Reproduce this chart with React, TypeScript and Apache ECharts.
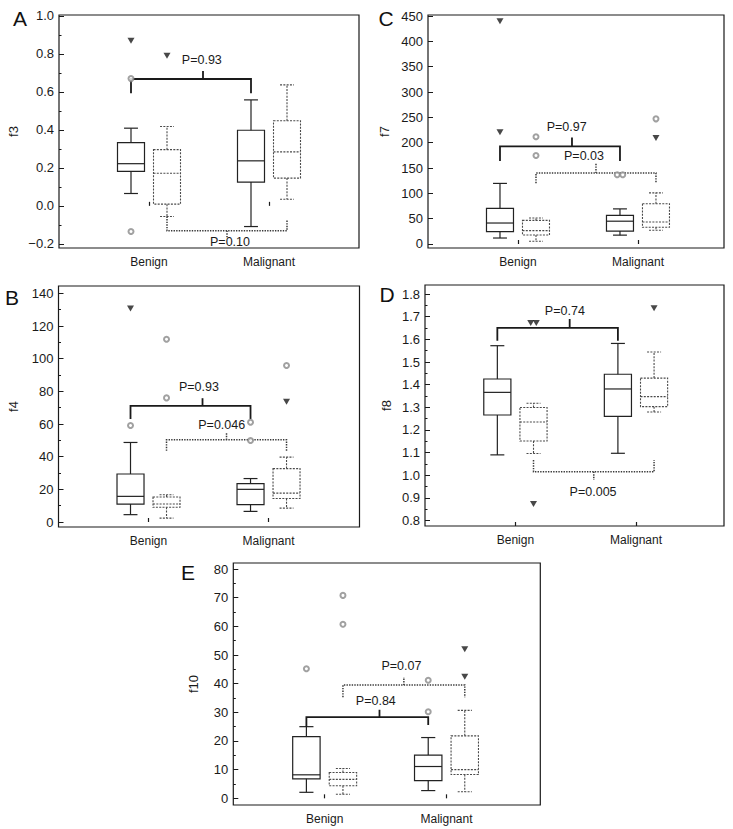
import React, { useEffect, useRef } from 'react';
import * as echarts from 'echarts';

const FONT = '"Liberation Sans", Arial, Helvetica, sans-serif';

const categories = ['Benign', 'Malignant'];

// Box statistics per category: [low whisker, Q1, median, Q3, high whisker]
// Outliers: [categoryIndex, group (0 = solid box, 1 = dashed box), value]

// Panel A — f3
const f3Solid = [[0.065, 0.181, 0.222, 0.333, 0.409], [-0.109, 0.125, 0.237, 0.398, 0.558]];
const f3Dashed = [[-0.056, 0.009, 0.172, 0.296, 0.418], [0.035, 0.146, 0.284, 0.448, 0.637]];
const f3Circles = [[0, 0, 0.67], [0, 0, -0.135]];
const f3Triangles = [[0, 0, 0.87], [0, 1, 0.79]];
const f3Ticks = [-0.2, 0, 0.2, 0.4, 0.6, 0.8, 1.0];
const f3Minor = [-0.1, 0.1, 0.3, 0.5, 0.7, 0.9];
const f3Brackets = [
  { dotted: 0, y: 0.668, leftEnd: 0.593, rightEnd: 0.593, tickEnd: 0.71, label: 'P=0.93', labelX: 1.19, labelY: 0.768 },
  { dotted: 1, y: -0.131, leftEnd: -0.056, rightEnd: -0.074, tickEnd: -0.165, label: 'P=0.10', labelX: 1.425, labelY: -0.19 },
];

// Panel C — f7
const f7Solid = [[11.8, 24.3, 41.4, 70.3, 119.6], [17.5, 25.5, 45, 56.5, 69.3]];
const f7Dashed = [[5.3, 17.7, 26.3, 46.6, 51.2], [27, 33, 43.5, 79.5, 101]];
const f7Circles = [[0, 1, 211.6], [0, 1, 174.8], [1, 0, 136.7], [1, 0, 136.7], [1, 1, 247]];
const f7Triangles = [[0, 0, 439.5], [0, 0, 220.8], [1, 1, 209]];
const f7Ticks = [0, 50, 100, 150, 200, 250, 300, 350, 400, 450];
const f7Minor: number[] = [];
const f7Brackets = [
  { dotted: 0, y: 192.5, leftEnd: 164, rightEnd: 164, tickEnd: 210, label: 'P=0.97', labelX: 1.156, labelY: 230 },
  { dotted: 1, y: 140, leftEnd: 120, rightEnd: 120, tickEnd: 159.6, label: 'P=0.03', labelX: 1.3, labelY: 172.8 },
];

// Panel B — f4
const f4Solid = [[4.5, 11, 15.7, 29.4, 48.7], [6.5, 10.6, 20, 23.5, 26.6]];
const f4Dashed = [[2.4, 9, 11, 15.3, 16.7], [8.5, 14.4, 17.7, 32.7, 39.7]];
const f4Circles = [[0, 0, 59.1], [0, 1, 111.9], [0, 1, 76], [1, 0, 61.1], [1, 0, 49.9], [1, 1, 95.8]];
const f4Triangles = [[0, 0, 130.8], [1, 1, 73.6]];
const f4Ticks = [0, 20, 40, 60, 80, 100, 120, 140];
const f4Minor = [10, 30, 50, 70, 90, 110, 130];
const f4Brackets = [
  { dotted: 0, y: 71.1, leftEnd: 63, rightEnd: 63, tickEnd: 75.8, label: 'P=0.93', labelX: 1.17, labelY: 82.5 },
  { dotted: 1, y: 50.3, leftEnd: 43.6, rightEnd: 43.6, tickEnd: 54.9, label: 'P=0.046', labelX: 1.36, labelY: 59.4 },
];

// Panel D — f8
const f8Solid = [[1.09, 1.266, 1.366, 1.425, 1.572], [1.097, 1.26, 1.381, 1.446, 1.582]];
const f8Dashed = [[1.096, 1.151, 1.235, 1.299, 1.318], [1.279, 1.303, 1.347, 1.429, 1.544]];
const f8Circles: number[][] = [];
const f8Triangles = [[0, 1, 1.672], [0, 1, 1.672], [0, 1, 0.873], [1, 1, 1.737]];
const f8Ticks = [0.8, 0.9, 1.0, 1.1, 1.2, 1.3, 1.4, 1.5, 1.6, 1.7, 1.8];
const f8Minor = [0.85, 0.95, 1.05, 1.15, 1.25, 1.35, 1.45, 1.55, 1.65, 1.75];
const f8Brackets = [
  { dotted: 0, y: 1.651, leftEnd: 1.594, rightEnd: 1.594, tickEnd: 1.69, label: 'P=0.74', labelX: 1.16, labelY: 1.726 },
  { dotted: 1, y: 1.016, leftEnd: 1.067, rightEnd: 1.067, tickEnd: 0.979, label: 'P=0.005', labelX: 1.394, labelY: 0.926 },
];

// Panel E — f10
const f10Solid = [[2.1, 6.8, 8.2, 21.5, 25], [2.7, 6.2, 11.1, 15.1, 21.2]];
const f10Dashed = [[1.4, 4.4, 6.6, 9.0, 10.4], [2.3, 8.3, 10, 21.8, 30.7]];
const f10Circles = [[0, 0, 45.2], [0, 1, 70.8], [0, 1, 60.7], [1, 0, 41.2], [1, 0, 30.2]];
const f10Triangles = [[1, 1, 52], [1, 1, 42.4]];
const f10Ticks = [0, 10, 20, 30, 40, 50, 60, 70, 80];
const f10Minor = [5, 15, 25, 35, 45, 55, 65, 75];
const f10Brackets = [
  { dotted: 0, y: 28.3, leftEnd: 25, rightEnd: 25.6, tickEnd: 30.9, label: 'P=0.84', labelX: 1.17, labelY: 33.8 },
  { dotted: 1, y: 39.5, leftEnd: 35.3, rightEnd: 35.3, tickEnd: 42.3, label: 'P=0.07', labelX: 1.38, labelY: 46 },
];

const panels = [
  { letter: 'A', name: 'f3', grid: { left: 59, top: 15, width: 300, height: 233 }, xMax: 2.5, yMin: -0.222, yMax: 1.005, dec: 1, nameGap: 39, letterPos: [20, 18], ticks: f3Ticks, minor: f3Minor, solid: f3Solid, dashed: f3Dashed, circles: f3Circles, triangles: f3Triangles, brackets: f3Brackets },
  { letter: 'C', name: 'f7', grid: { left: 428, top: 15, width: 296, height: 233 }, xMax: 2.467, yMin: -7.9, yMax: 452, dec: 0, nameGap: 37, letterPos: [386, 18], ticks: f7Ticks, minor: f7Minor, solid: f7Solid, dashed: f7Dashed, circles: f7Circles, triangles: f7Triangles, brackets: f7Brackets },
  { letter: 'B', name: 'f4', grid: { left: 58.5, top: 286, width: 301, height: 241 }, xMax: 2.508, yMin: -3.06, yMax: 144.5, dec: 0, nameGap: 39, letterPos: [12, 297], ticks: f4Ticks, minor: f4Minor, solid: f4Solid, dashed: f4Dashed, circles: f4Circles, triangles: f4Triangles, brackets: f4Brackets },
  { letter: 'D', name: 'f8', grid: { left: 425, top: 285, width: 299, height: 241 }, xMax: 2.48, yMin: 0.776, yMax: 1.84, dec: 1, nameGap: 32, letterPos: [387, 294], ticks: f8Ticks, minor: f8Minor, solid: f8Solid, dashed: f8Dashed, circles: f8Circles, triangles: f8Triangles, brackets: f8Brackets },
  { letter: 'E', name: 'f10', grid: { left: 233.3, top: 563, width: 307, height: 242 }, xMax: 2.52, yMin: -2.33, yMax: 82.1, dec: 0, nameGap: 33, letterPos: [188, 572], ticks: f10Ticks, minor: f10Minor, solid: f10Solid, dashed: f10Dashed, circles: f10Circles, triangles: f10Triangles, brackets: f10Brackets },
];

const CAT_POS = [0.75, 1.75];
const GROUP_OFF = [-0.15, 0.15];
const HALF_BOX = 0.1125;
const HALF_CAP = 0.058;

const boxX = (c: number, g: number) => CAT_POS[c] + GROUP_OFF[g];

function outlierPoints(list: number[][]) {
  const counts: Record<string, number> = {};
  const seen: Record<string, number> = {};
  list.forEach(([c, g, v]) => {
    const k = `${c}|${g}|${v}`;
    counts[k] = (counts[k] || 0) + 1;
  });
  return list.map(([c, g, v]) => {
    const k = `${c}|${g}|${v}`;
    const n = counts[k];
    const i = (seen[k] = (seen[k] ?? -1) + 1);
    const off = n > 1 ? (i - (n - 1) / 2) * 0.046 : 0;
    return [boxX(c, g) + off, v];
  });
}

function renderBox(_params: any, api: any) {
  const x = api.value(0);
  const lo = api.value(1), q1 = api.value(2), med = api.value(3), q3 = api.value(4), hi = api.value(5);
  const dashed = api.value(6) === 1;
  const style = {
    stroke: dashed ? '#4a4a4a' : '#222',
    lineWidth: dashed ? 1.1 : 1.2,
    lineDash: dashed ? [2, 1.3] : undefined,
    fill: 'none',
  };
  const tl = api.coord([x - HALF_BOX, q3]);
  const br = api.coord([x + HALF_BOX, q1]);
  const c = (xx: number, yy: number) => api.coord([xx, yy]);
  const line = (a: number[], b: number[]) => ({
    type: 'line',
    shape: { x1: a[0], y1: a[1], x2: b[0], y2: b[1] },
    style,
  });
  return {
    type: 'group',
    children: [
      { type: 'rect', shape: { x: tl[0], y: tl[1], width: br[0] - tl[0], height: br[1] - tl[1] }, style },
      line(c(x - HALF_BOX, med), c(x + HALF_BOX, med)),
      line(c(x, q3), c(x, hi)),
      line(c(x, q1), c(x, lo)),
      line(c(x - HALF_CAP, hi), c(x + HALF_CAP, hi)),
      line(c(x - HALF_CAP, lo), c(x + HALF_CAP, lo)),
    ],
  };
}

function makeBracketRenderer(brackets: any[]) {
  return (params: any, api: any) => {
    const b = brackets[params.dataIndex];
    const dotted = b.dotted === 1;
    const xL = boxX(0, dotted ? 1 : 0);
    const xR = boxX(1, dotted ? 1 : 0);
    const xT = dotted ? 1.4 : 1.2;
    const style = {
      stroke: dotted ? '#3a3a3a' : '#1a1a1a',
      lineWidth: dotted ? 1.5 : 1.8,
      lineDash: dotted ? [1.4, 1.2] : undefined,
      fill: 'none',
    };
    const p1 = api.coord([xL, b.leftEnd]);
    const p2 = api.coord([xL, b.y]);
    const p3 = api.coord([xR, b.y]);
    const p4 = api.coord([xR, b.rightEnd]);
    const t1 = api.coord([xT, b.y]);
    const t2 = api.coord([xT, b.tickEnd]);
    const lp = api.coord([b.labelX, b.labelY]);
    return {
      type: 'group',
      children: [
        { type: 'polyline', shape: { points: [p1, p2, p3, p4] }, style },
        { type: 'line', shape: { x1: t1[0], y1: t1[1], x2: t2[0], y2: t2[1] }, style },
        {
          type: 'text',
          x: lp[0],
          y: lp[1],
          style: {
            text: b.label,
            fontSize: 12.5,
            fontFamily: FONT,
            fill: '#1a1a1a',
            align: 'center',
            verticalAlign: 'middle',
            textAlign: 'center',
            textVerticalAlign: 'middle',
          },
        },
      ],
    };
  };
}

function buildOption() {
  const grid: any[] = [];
  const xAxis: any[] = [];
  const yAxis: any[] = [];
  const series: any[] = [];
  const graphic: any[] = [];

  panels.forEach((p, i) => {
    grid.push({ ...p.grid, show: true, borderColor: '#1a1a1a', borderWidth: 1.2, backgroundColor: '#fff' });
    xAxis.push({
      type: 'value',
      gridIndex: i,
      min: 0,
      max: p.xMax,
      axisLine: { show: false },
      splitLine: { show: false },
      axisTick: { show: true, inside: true, length: 4, customValues: CAT_POS, lineStyle: { color: '#1a1a1a', width: 1.2 } },
      axisLabel: {
        customValues: CAT_POS,
        formatter: (v: number) => categories[Math.round(v - 0.75)] ?? '',
        fontSize: 12,
        fontFamily: FONT,
        color: '#1a1a1a',
        margin: 8,
      },
    });
    const fmt = (v: number) => {
      const s = v.toFixed(p.dec);
      return v < 0 ? '\u2212' + s.slice(1) : s;
    };
    yAxis.push({
      type: 'value',
      gridIndex: i,
      min: p.yMin,
      max: p.yMax,
      position: 'left',
      name: p.name,
      nameLocation: 'middle',
      nameGap: p.nameGap,
      nameRotate: 90,
      nameTextStyle: { fontSize: 13, fontFamily: FONT, color: '#1a1a1a' },
      axisLine: { show: false },
      splitLine: { show: false },
      axisTick: { show: true, inside: true, length: 5, customValues: p.ticks, lineStyle: { color: '#1a1a1a', width: 1 } },
      axisLabel: { customValues: p.ticks, formatter: fmt, fontSize: 13, fontFamily: FONT, color: '#1a1a1a', margin: 5 },
    });
    yAxis.push({
      type: 'value',
      gridIndex: i,
      min: p.yMin,
      max: p.yMax,
      position: 'left',
      offset: 0,
      axisLine: { show: false },
      splitLine: { show: false },
      axisTick: { show: p.minor.length > 0, inside: true, length: 2.5, customValues: p.minor, lineStyle: { color: '#1a1a1a', width: 1 } },
      axisLabel: { show: false },
    });
    const yIdx = i * 2;

    const boxes: number[][] = [];
    [p.solid, p.dashed].forEach((arr, g) => {
      arr.forEach((s, c) => boxes.push([boxX(c, g), ...s, g]));
    });
    series.push({
      type: 'custom',
      xAxisIndex: i,
      yAxisIndex: yIdx,
      silent: true,
      renderItem: renderBox,
      encode: { x: 0, y: [1, 2, 3, 4, 5] },
      data: boxes,
      z: 2,
    });
    series.push({
      type: 'custom',
      xAxisIndex: i,
      yAxisIndex: yIdx,
      silent: true,
      renderItem: makeBracketRenderer(p.brackets),
      encode: { x: 0, y: 1 },
      data: p.brackets.map((b) => [1.2, b.y]),
      z: 3,
    });
    series.push({
      type: 'scatter',
      xAxisIndex: i,
      yAxisIndex: yIdx,
      silent: true,
      symbol: 'emptyCircle',
      symbolSize: 5,
      itemStyle: { color: '#8a8a8a', borderWidth: 0.9 },
      data: outlierPoints(p.circles),
      z: 4,
    });
    series.push({
      type: 'scatter',
      xAxisIndex: i,
      yAxisIndex: yIdx,
      silent: true,
      symbol: 'triangle',
      symbolRotate: 180,
      symbolSize: [7, 6],
      itemStyle: { color: '#1a1a1a' },
      data: outlierPoints(p.triangles),
      z: 4,
    });

    graphic.push({
      type: 'text',
      x: p.letterPos[0],
      y: p.letterPos[1],
      style: {
        text: p.letter,
        fontSize: 21,
        fontFamily: FONT,
        fill: '#111',
        align: 'center',
        verticalAlign: 'middle',
        textAlign: 'center',
        textVerticalAlign: 'middle',
      },
    });
  });

  return { animation: false, backgroundColor: '#fff', grid, xAxis, yAxis, series, graphic };
}

export default function App() {
  const ref = useRef<HTMLDivElement>(null);
  useEffect(() => {
    if (!ref.current) return;
    const chart = echarts.init(ref.current, null, { renderer: 'svg' });
    chart.setOption(buildOption() as any);
    return () => chart.dispose();
  }, []);
  return (
    <div
      ref={ref}
      style={{ position: 'absolute', left: 0, top: 0, width: 733, height: 829, background: '#fff' }}
    />
  );
}
